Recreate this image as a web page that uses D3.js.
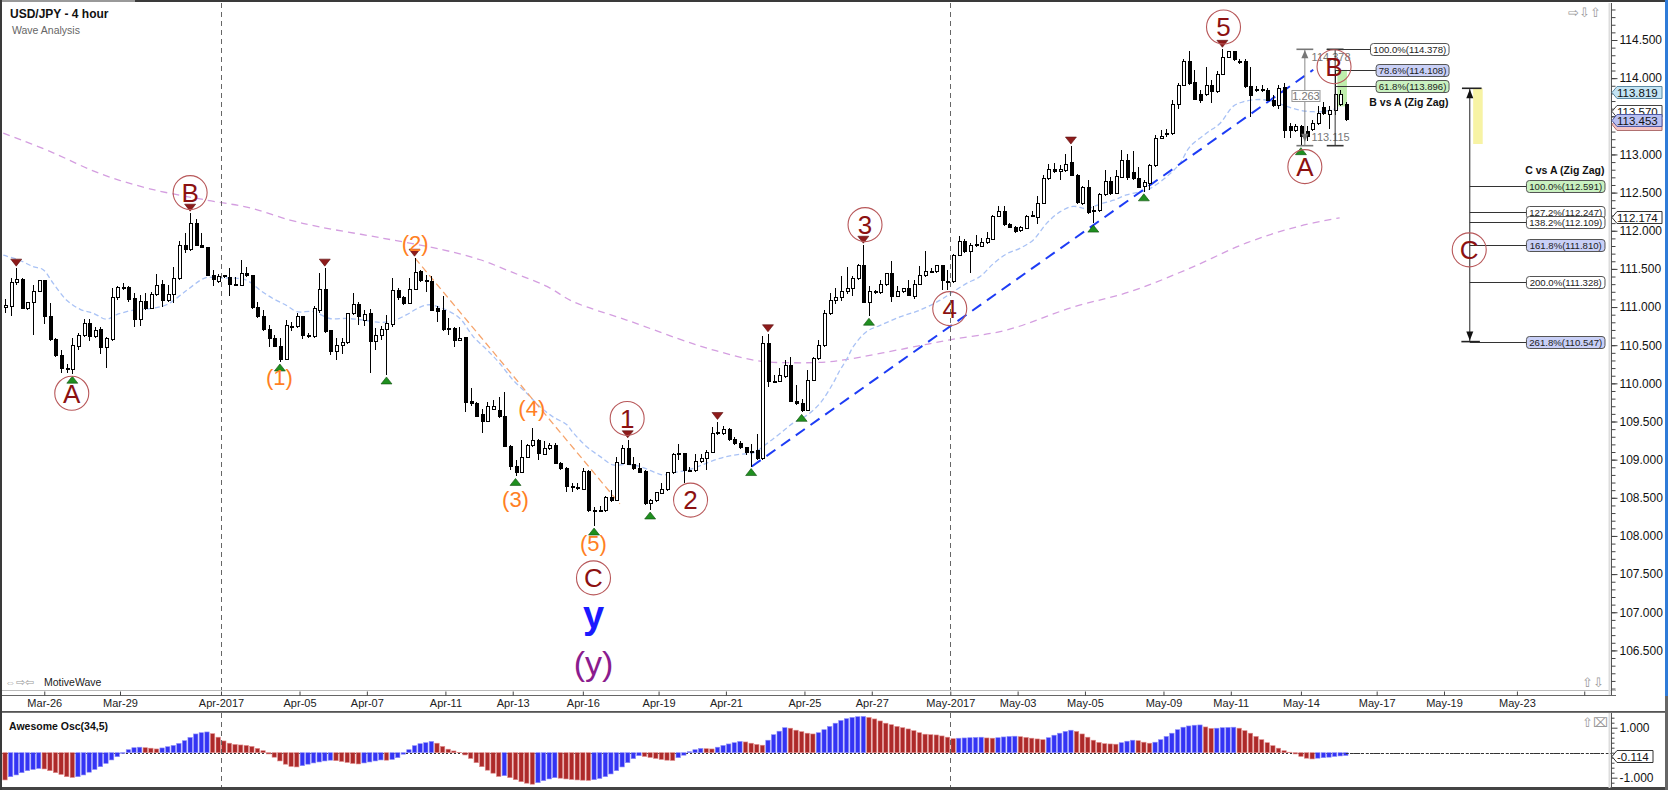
<!DOCTYPE html>
<html>
<head>
<meta charset="utf-8">
<script src="https://d3js.org/d3.v7.min.js"></script>
<style>
  body { margin: 0; background: #fff; }
  svg { display: block; }
</style>
</head>
<body>
<div id="chart"></div>
<script>
// USD/JPY 4 hour candles, [open, high, low, close], bar 0 = first visible bar
const ohlc = [
  [111.00,111.11,110.92,111.02],[111.01,111.38,110.88,111.32],[111.32,111.51,111.29,111.36],[111.36,111.38,110.97,110.98],
  [110.98,111.07,110.96,111.06],[111.06,111.29,110.63,111.21],[111.21,111.36,111.20,111.35],[111.35,111.36,110.78,110.88],
  [110.88,111.05,110.55,110.57],[110.57,110.59,110.35,110.37],[110.37,110.44,110.13,110.20],[110.20,110.26,110.14,110.18],
  [110.18,110.59,110.12,110.49],[110.48,110.66,110.44,110.63],[110.63,110.84,110.61,110.78],[110.78,110.84,110.55,110.61],
  [110.61,110.74,110.59,110.69],[110.70,110.74,110.39,110.47],[110.47,110.61,110.20,110.59],[110.58,111.25,110.56,111.13],
  [111.13,111.27,111.09,111.25],[111.24,111.31,111.22,111.25],[111.25,111.28,111.07,111.10],[111.11,111.18,110.74,110.84],
  [110.84,111.16,110.75,111.07],[111.07,111.18,110.96,110.98],[110.98,111.20,110.97,111.17],[111.16,111.43,111.14,111.28],
  [111.29,111.35,111.00,111.09],[111.08,111.29,111.06,111.17],[111.17,111.53,111.05,111.38],[111.38,111.86,111.35,111.81],
  [111.81,111.97,111.71,111.75],[111.75,112.23,111.74,112.10],[112.10,112.16,111.80,111.81],[111.81,111.97,111.77,111.78],
  [111.78,111.79,111.41,111.42],[111.42,111.49,111.27,111.36],[111.33,111.43,111.31,111.40],[111.40,111.42,111.38,111.41],
  [111.39,111.51,111.15,111.29],[111.28,111.40,111.27,111.29],[111.28,111.62,111.27,111.44],[111.44,111.53,111.39,111.42],
  [111.41,111.42,110.98,111.00],[111.00,111.07,110.86,110.88],[110.88,110.96,110.68,110.70],[110.70,110.76,110.48,110.59],
  [110.59,110.63,110.47,110.48],[110.48,110.59,110.28,110.31],[110.31,110.83,110.30,110.76],[110.75,110.81,110.68,110.74],
  [110.75,110.92,110.73,110.87],[110.87,110.88,110.58,110.63],[110.63,110.66,110.60,110.62],[110.62,111.01,110.60,110.98],
  [110.96,111.45,110.92,111.23],[111.23,111.51,110.66,110.68],[110.69,110.70,110.37,110.42],[110.42,110.59,110.31,110.50],
  [110.50,110.59,110.39,110.53],[110.53,110.92,110.52,110.91],[110.91,111.18,110.90,111.03],[111.03,111.06,110.77,110.88],
  [110.83,110.96,110.75,110.90],[110.91,110.98,110.14,110.55],[110.55,110.72,110.44,110.63],[110.63,110.75,110.57,110.71],
  [110.70,110.90,110.11,110.78],[110.77,111.38,110.74,111.22],[111.22,111.25,111.09,111.12],[111.12,111.14,111.03,111.05],
  [111.05,111.38,111.04,111.23],[111.23,111.64,111.22,111.45],[111.46,111.49,111.33,111.35],[111.35,111.42,111.20,111.34],
  [111.33,111.41,110.95,110.96],[110.98,111.01,110.81,110.94],[110.96,111.14,110.68,110.70],[110.72,110.85,110.63,110.70],
  [110.72,110.74,110.47,110.56],[110.56,110.74,110.55,110.59],[110.60,110.61,109.63,109.75],[109.76,109.94,109.70,109.73],
  [109.73,109.76,109.56,109.57],[109.59,109.67,109.35,109.50],[109.50,109.76,109.49,109.70],[109.66,109.78,109.65,109.70],
  [109.64,109.82,109.54,109.56],[109.56,109.89,109.16,109.17],[109.17,109.19,108.87,108.91],[108.91,108.99,108.78,108.83],
  [108.83,109.26,108.82,109.03],[109.03,109.21,109.02,109.19],[109.19,109.41,109.17,109.25],[109.25,109.27,108.99,109.08],
  [109.07,109.24,109.06,109.14],[109.14,109.22,109.13,109.19],[109.19,109.22,108.94,108.95],[108.95,108.97,108.87,108.89],
  [108.89,108.91,108.57,108.65],[108.65,108.70,108.57,108.64],[108.64,108.69,108.60,108.63],[108.61,108.89,108.60,108.84],
  [108.84,108.86,108.32,108.33],[108.33,108.38,108.13,108.32],[108.33,108.39,108.31,108.34],[108.33,108.52,108.31,108.51],
  [108.51,108.60,108.45,108.47],[108.47,109.04,108.46,108.96],[108.95,109.19,108.94,109.14],[109.15,109.26,108.93,108.94],
  [108.94,109.04,108.86,108.89],[108.89,108.95,108.82,108.83],[108.84,108.86,108.41,108.42],[108.42,108.48,108.34,108.47],
  [108.46,108.58,108.45,108.57],[108.56,108.70,108.55,108.61],[108.61,108.84,108.59,108.83],[108.83,109.09,108.81,109.07],
  [109.07,109.21,109.00,109.08],[109.08,109.09,108.70,108.86],[108.86,108.91,108.84,108.85],[108.86,109.08,108.84,108.98],
  [108.97,109.08,108.95,109.02],[109.02,109.13,108.86,109.10],[109.10,109.43,109.09,109.34],[109.34,109.50,109.32,109.35],
  [109.34,109.44,109.32,109.40],[109.40,109.42,109.24,109.26],[109.26,109.30,109.19,109.21],[109.21,109.24,109.14,109.16],
  [109.16,109.17,109.06,109.09],[109.10,109.21,108.91,109.11],[109.12,109.34,109.00,109.02],[109.02,110.62,109.00,110.52],
  [110.52,110.65,109.95,110.03],[110.03,110.11,110.00,110.02],[110.03,110.20,110.02,110.10],[110.09,110.31,110.07,110.24],
  [110.24,110.35,109.75,109.76],[109.76,109.98,109.72,109.73],[109.73,109.80,109.62,109.65],[109.65,110.18,109.64,110.04],
  [110.04,110.35,110.03,110.33],[110.33,110.57,110.31,110.50],[110.50,110.96,110.48,110.91],[110.91,111.18,110.90,111.09],
  [111.09,111.25,111.04,111.12],[111.12,111.41,111.08,111.20],[111.20,111.53,111.17,111.24],[111.24,111.41,111.14,111.38],
  [111.38,111.56,111.35,111.55],[111.55,111.81,111.05,111.06],[111.06,111.27,110.88,111.20],[111.20,111.23,111.17,111.21],
  [111.19,111.35,111.17,111.29],[111.29,111.45,111.28,111.44],[111.44,111.61,111.06,111.14],[111.14,111.27,111.13,111.21],
  [111.20,111.25,111.19,111.24],[111.24,111.35,111.14,111.15],[111.14,111.36,111.10,111.30],[111.30,111.54,111.29,111.41],
  [111.41,111.74,111.39,111.46],[111.46,111.51,111.45,111.47],[111.46,111.55,111.45,111.54],[111.54,111.55,111.22,111.35],
  [111.33,111.48,111.23,111.34],[111.33,111.70,111.32,111.68],[111.68,111.93,111.67,111.86],[111.86,111.89,111.71,111.73],
  [111.73,111.84,111.44,111.81],[111.81,111.94,111.79,111.82],[111.80,111.90,111.79,111.84],[111.84,111.99,111.83,111.90],
  [111.89,112.21,111.88,112.19],[112.19,112.32,112.18,112.25],[112.25,112.32,112.06,112.08],[112.08,112.10,112.03,112.04],
  [112.04,112.06,111.97,111.99],[112.00,112.06,111.99,112.04],[112.03,112.21,112.02,112.19],[112.19,112.26,112.18,112.20],
  [112.18,112.45,112.09,112.36],[112.36,112.73,112.35,112.69],[112.69,112.87,112.67,112.80],[112.80,112.89,112.76,112.77],
  [112.77,112.86,112.67,112.80],[112.79,113.01,112.77,112.87],[112.89,113.11,112.72,112.73],[112.73,112.75,112.35,112.37],
  [112.36,112.59,112.34,112.57],[112.57,112.67,112.22,112.24],[112.25,112.32,112.10,112.27],[112.26,112.49,112.25,112.47],
  [112.47,112.80,112.46,112.64],[112.64,112.71,112.47,112.49],[112.49,112.80,112.48,112.71],[112.70,113.06,112.69,112.92],
  [112.92,113.01,112.67,112.70],[112.76,113.04,112.66,112.69],[112.69,112.84,112.56,112.57],[112.58,112.67,112.51,112.63],
  [112.62,112.87,112.53,112.85],[112.85,113.26,112.84,113.21],[113.21,113.32,113.20,113.24],[113.26,113.34,113.23,113.28],
  [113.27,113.71,113.26,113.66],[113.66,113.93,113.60,113.91],[113.91,114.25,113.90,114.22],[114.22,114.35,113.91,113.93],
  [113.94,114.11,113.71,113.72],[113.78,113.85,113.67,113.71],[113.78,114.15,113.77,113.91],[113.91,113.98,113.68,113.82],
  [113.82,114.09,113.81,114.05],[114.05,114.378,114.04,114.27],[114.27,114.36,114.26,114.35],[114.35,114.36,114.22,114.24],
  [114.22,114.25,114.19,114.21],[114.22,114.25,113.87,113.89],[113.89,114.15,113.49,113.77],[113.85,113.90,113.82,113.84],
  [113.84,113.91,113.82,113.85],[113.84,113.87,113.70,113.71],[113.71,113.78,113.62,113.64],[113.64,113.91,113.60,113.87],
  [113.88,113.93,113.22,113.32],[113.37,113.41,113.22,113.31],[113.32,113.40,113.30,113.37],[113.36,113.39,113.115,113.23],
  [113.30,113.37,113.17,113.23],[113.33,113.45,113.31,113.41],[113.41,113.63,113.39,113.54],[113.62,113.69,113.52,113.54],
  [113.52,113.63,113.33,113.57],[113.58,114.11,113.52,113.79],[113.66,113.84,113.63,113.79],[113.66,113.69,113.44,113.453]
];

// Awesome Oscillator (34,5), one value per bar
const aoValues = [
  -1.09,-0.96,-0.89,-0.80,-0.72,-0.67,-0.63,-0.65,-0.72,-0.80,
  -0.87,-0.96,-0.99,-0.96,-0.89,-0.78,-0.67,-0.56,-0.43,-0.29,
  -0.16,-0.03,0.12,0.20,0.22,0.20,0.18,0.15,0.19,0.24,
  0.29,0.37,0.48,0.61,0.75,0.80,0.83,0.76,0.62,0.47,
  0.38,0.33,0.31,0.29,0.25,0.17,0.08,-0.05,-0.18,-0.33,
  -0.46,-0.55,-0.57,-0.52,-0.46,-0.41,-0.37,-0.33,-0.30,-0.32,
  -0.35,-0.39,-0.43,-0.45,-0.41,-0.37,-0.33,-0.29,-0.30,-0.27,
  -0.20,-0.06,0.12,0.28,0.36,0.40,0.45,0.38,0.25,0.14,
  0.07,0.01,-0.09,-0.23,-0.40,-0.56,-0.70,-0.82,-0.95,-0.92,
  -1.00,-1.08,-1.16,-1.22,-1.26,-1.20,-1.12,-1.05,-1.00,-1.02,
  -1.05,-1.07,-1.09,-1.10,-1.11,-1.08,-1.03,-0.96,-0.85,-0.72,
  -0.57,-0.40,-0.24,-0.12,-0.15,-0.19,-0.23,-0.27,-0.30,-0.31,
  -0.20,-0.10,0.04,0.12,0.17,0.16,0.15,0.22,0.29,0.35,
  0.40,0.45,0.43,0.38,0.33,0.30,0.50,0.72,0.86,1.00,
  0.98,0.90,0.84,0.78,0.75,0.80,0.92,1.05,1.18,1.29,
  1.36,1.41,1.44,1.45,1.41,1.35,1.27,1.18,1.12,1.05,
  1.00,0.95,0.88,0.80,0.74,0.72,0.71,0.67,0.62,0.56,
  0.58,0.59,0.60,0.61,0.62,0.59,0.58,0.60,0.63,0.65,
  0.66,0.64,0.61,0.58,0.55,0.52,0.60,0.70,0.78,0.85,
  0.90,0.85,0.75,0.62,0.50,0.41,0.36,0.35,0.34,0.40,
  0.46,0.50,0.48,0.42,0.38,0.42,0.52,0.65,0.78,0.92,
  1.02,1.07,1.10,1.11,1.03,0.97,0.98,1.00,1.01,1.02,
  0.98,0.88,0.78,0.65,0.52,0.40,0.28,0.18,0.08,0.02,
  -0.05,-0.15,-0.22,-0.25,-0.22,-0.20,-0.18,-0.15,-0.13,-0.114
];

// date axis
const dateTickLabels = ['Mar-26','Mar-29','Apr-2017','Apr-05','Apr-07','Apr-11','Apr-13','Apr-16','Apr-19','Apr-21','Apr-25',
  'Apr-27','May-2017','May-03','May-05','May-09','May-11','May-14','May-17','May-19','May-23',''];
const dateTickBars = [7, 20.5, 38.5, 52.5, 64.5, 78.5, 90.5, 103, 116.5, 128.5, 142.5,
  154.5, 168.5, 180.5, 192.5, 206.5, 218.5, 231, 244.5, 256.5, 269.5, 281.5];

// moving averages, [bar, price]
const fastMA = [
  [-0.3,111.68],[2.7,111.61],[5.0,111.53],[6.8,111.49],[8.6,111.31],[11.0,111.09],[13.4,110.97],[15.7,110.92],
  [18.1,110.84],[19.9,110.90],[22.9,110.96],[25.8,110.98],[28.8,111.03],[32.4,111.22],[34.8,111.35],[36.0,111.39],
  [38.3,111.38],[40.7,111.38],[43.1,111.35],[45.5,111.22],[47.8,111.11],[50.2,111.02],[52.0,110.94],[55.0,110.94],
  [57.9,110.85],[60.9,110.85],[63.9,110.83],[66.8,110.80],[69.2,110.82],[71.6,110.90],[74.0,111.00],[75.8,111.03],
  [78.7,110.96],[81.1,110.85],[83.5,110.61],[85.9,110.44],[88.2,110.26],[90.6,110.04],[93.0,109.87],[95.4,109.69],
  [97.7,109.56],[100.1,109.46],[101.2,109.36],[103.7,109.17],[106.1,109.04],[108.4,108.93],[110.8,108.94],[113.2,108.91],
  [115.6,108.84],[117.3,108.80],[119.1,108.83],[121.5,108.86],[123.9,108.92],[126.3,108.99],[128.6,109.04],[131.0,109.07],
  [133.4,109.09],[135.8,109.21],[138.1,109.34],[140.5,109.48],[142.9,109.58],[145.3,109.74],[147.6,110.00],[148.8,110.17],
  [150.0,110.31],[151.2,110.48],[153.6,110.68],[156.0,110.76],[159.5,110.87],[163.1,110.96],[166.7,111.09],[169.0,111.20],
  [171.4,111.31],[173.8,111.40],[176.2,111.57],[178.6,111.70],[180.9,111.77],[183.3,111.88],[185.7,112.10],[188.1,112.25],
  [190.4,112.32],[192.8,112.29],[195.2,112.35],[197.6,112.40],[199.9,112.47],[203.5,112.53],[204.7,112.58],[207.1,112.71],
  [209.4,112.88],[211.2,113.10],[214.2,113.28],[216.6,113.41],[218.9,113.63],[220.7,113.69],[223.7,113.72],[226.1,113.69],
  [228.5,113.63],[230.8,113.58],[233.2,113.56],[235.6,113.57],[238.0,113.62]
];
const slowMA = [
  [-0.3,113.28],[8.0,113.04],[16.9,112.75],[25.8,112.55],[36.0,112.40],[43.7,112.30],[50.8,112.14],[56.1,112.05],
  [66.8,111.91],[78.1,111.75],[84.7,111.62],[90.6,111.45],[96.6,111.27],[101.3,111.07],[110.8,110.83],[122.6,110.52],
  [128.6,110.39],[134.6,110.29],[140.5,110.27],[146.5,110.28],[150.6,110.32],[160.7,110.46],[168.4,110.57],[178.6,110.70],
  [190.4,111.00],[200.5,111.20],[210.6,111.49],[221.3,111.84],[230.2,112.05],[237.9,112.17]
];

// trend lines, [bar, price]
const orangeTrend = [[73.1, 111.64], [109.6, 108.42]];
const blueTrend = [[133.1, 108.91], [233.2, 114.11]];

// wave labels, [bar, price, text]
const waveCircles = [
  [11.9,109.87,'A'],[33.0,112.50,'B'],[104.9,107.45,'C'],
  [110.9,109.54,'1'],[122.2,108.47,'2'],[153.3,112.08,'3'],[168.4,110.98,'4'],[217.2,114.67,'5'],
  [231.7,112.84,'A'],[236.9,114.15,'B'],[261.0,111.75,'C']
];
const orangeWaves = [[48.9,110.07,'(1)'],[73.1,111.83,'(2)'],[91.0,108.47,'(3)'],[93.9,109.66,'(4)'],[104.9,107.90,'(5)']];
const degreeY = [104.9, 106.79, 'y'];
const degreeYParen = [104.9, 106.18, '(y)'];

// zig zag pivots (bar numbers)
const pivotHighs = [2, 33, 57, 73, 111, 127, 136, 153, 190, 217];
const pivotLows = [12, 49, 68, 91, 105, 115, 133, 142, 154, 194, 203, 231];

// fibonacci tools
const waveAPrices = [114.378, 113.115];
const bvsaLevels = ['100.0', '78.6', '61.8'];
const bvsaPrices = [114.378, 114.108, 113.896];
const cvsaLevels = ['100.0', '127.2', '138.2', '161.8', '200.0', '261.8'];
const cvsaPrices = [112.591, 112.247, 112.109, 111.810, 111.328, 110.547];
const cvsaStart = 113.867;
const bZonePrices = [114.108, 113.63];
const cZonePrices = [113.867, 113.137];

// right axis value markers (the first one sits hidden under the others)
const markerPrices = [113.40, 113.570, 113.453, 113.819, 112.174];
const aoLast = -0.114;

// ---------------------------------------------------------------
const W = 1668, H = 790;
const axisX = 1611;
const mainTop = 3, mainBottom = 691;
const oscTop = 713, oscBottom = 788;

const x = d3.scaleLinear().domain([0, 286.27]).range([5, axisX]);
const y = d3.scaleLinear().domain([106.5, 114.5]).range([650.4, 40]);
const yOsc = d3.scaleLinear().domain([-1, 1]).range([777.7, 727.7]);
const font = '"Liberation Sans", Arial, Helvetica, sans-serif';

const svg = d3.select('#chart').append('svg')
  .attr('width', W).attr('height', H)
  .style('font-family', font);

svg.append('rect').attr('width', W).attr('height', H).attr('fill', '#fff');

const defs = svg.append('defs');
defs.append('clipPath').attr('id', 'clipMain').append('rect')
  .attr('x', 2).attr('y', mainTop).attr('width', axisX - 2).attr('height', mainBottom - mainTop);
defs.append('clipPath').attr('id', 'clipOsc').append('rect')
  .attr('x', 2).attr('y', oscTop).attr('width', axisX - 2).attr('height', oscBottom - oscTop);

const main = svg.append('g').attr('clip-path', 'url(#clipMain)');
const osc = svg.append('g').attr('clip-path', 'url(#clipOsc)');

// month separators
const monthBars = dateTickBars.filter((d, i) => dateTickLabels[i].indexOf('2017') >= 0);
monthBars.forEach(b => {
  const xx = Math.round(x(b)) + 0.5;
  [[mainTop, mainBottom], [oscTop, oscBottom]].forEach(r => {
    svg.append('line').attr('x1', xx).attr('x2', xx).attr('y1', r[0]).attr('y2', r[1])
      .attr('stroke', '#666').attr('stroke-width', 1).attr('stroke-dasharray', '5,4');
  });
});

// moving averages
const maLine = d3.line().x(d => x(d[0])).y(d => y(d[1])).curve(d3.curveCatmullRom);
main.append('path').attr('d', maLine(slowMA)).attr('fill', 'none')
  .attr('stroke', '#d49ee0').attr('stroke-width', 1.3).attr('stroke-dasharray', '7,5');
main.append('path').attr('d', maLine(fastMA)).attr('fill', 'none')
  .attr('stroke', '#a9c2f5').attr('stroke-width', 1.3).attr('stroke-dasharray', '5,3');

// trend lines
const straight = d3.line().x(d => x(d[0])).y(d => y(d[1]));
main.append('path').attr('d', straight(orangeTrend)).attr('fill', 'none')
  .attr('stroke', '#f6a46c').attr('stroke-width', 1.3).attr('stroke-dasharray', '7,4');
main.append('path').attr('d', straight(blueTrend)).attr('fill', 'none')
  .attr('stroke', '#1d3cf5').attr('stroke-width', 2).attr('stroke-dasharray', '11,7');

// zones behind candles
main.append('rect').attr('x', x(237.5)).attr('width', x(239.2) - x(237.5))
  .attr('y', y(bZonePrices[0])).attr('height', y(bZonePrices[1]) - y(bZonePrices[0]))
  .attr('fill', '#a9e890').attr('opacity', 0.75);

// candles
const cg = main.append('g').attr('shape-rendering', 'crispEdges');
ohlc.forEach((d, i) => {
  const cx = Math.round(x(i));
  const [o, h, l, c] = d;
  cg.append('line').attr('x1', cx + 0.5).attr('x2', cx + 0.5)
    .attr('y1', y(h)).attr('y2', y(l)).attr('stroke', '#000').attr('stroke-width', 1);
  const top = y(Math.max(o, c)), bot = y(Math.min(o, c));
  cg.append('rect').attr('x', cx - 1).attr('width', 3)
    .attr('y', top).attr('height', Math.max(1, bot - top))
    .attr('fill', c >= o ? '#fff' : '#000').attr('stroke', '#000').attr('stroke-width', 1);
});

// pivot markers
pivotHighs.forEach(b => {
  const cx = x(b), yy = y(ohlc[b][1]) - 2;
  main.append('path').attr('d', `M${cx - 5.5},${yy - 7}L${cx + 5.5},${yy - 7}L${cx},${yy}Z`)
    .attr('fill', '#8e1b1b').attr('stroke', '#5a0f0f').attr('stroke-width', 0.6);
});
pivotLows.forEach(b => {
  const cx = x(b), yy = y(ohlc[b][2]) + 2;
  main.append('path').attr('d', `M${cx - 5.5},${yy + 7}L${cx + 5.5},${yy + 7}L${cx},${yy}Z`)
    .attr('fill', '#1f8f1f').attr('stroke', '#0d4d0d').attr('stroke-width', 0.6);
});

// measurement of wave A
const measureBar = 231.7;
const mx = x(measureBar);
const ya = y(waveAPrices[0]), yb = y(waveAPrices[1]);
main.append('line').attr('x1', mx).attr('x2', mx).attr('y1', ya).attr('y2', yb).attr('stroke', '#888');
[ya, yb].forEach(yy => main.append('line').attr('x1', x(230.2)).attr('x2', x(233.2))
  .attr('y1', yy).attr('y2', yy).attr('stroke', '#777').attr('stroke-width', 1.6));
main.append('path').attr('d', `M${mx - 3.5},${ya + 9}L${mx + 3.5},${ya + 9}L${mx},${ya + 1}Z`).attr('fill', '#777');
main.append('path').attr('d', `M${mx - 3.5},${yb - 12}L${mx + 3.5},${yb - 12}L${mx},${yb - 4}Z`).attr('fill', '#777');
main.append('text').attr('x', x(232.9)).attr('y', ya + 12).attr('font-size', 11).attr('fill', '#777')
  .text(waveAPrices[0].toFixed(3));
main.append('text').attr('x', x(232.9)).attr('y', yb - 5).attr('font-size', 11).attr('fill', '#777')
  .text(waveAPrices[1].toFixed(3));
const ym = y((waveAPrices[0] + waveAPrices[1]) / 2) - 1.5;
main.append('rect').attr('x', x(229.4)).attr('y', ym - 5.5).attr('width', x(234.4) - x(229.4)).attr('height', 11)
  .attr('fill', '#fff').attr('stroke', '#999');
main.append('text').attr('x', (x(229.4) + x(234.4)) / 2).attr('y', ym + 4).attr('text-anchor', 'middle')
  .attr('font-size', 11).attr('fill', '#777').text((waveAPrices[0] - waveAPrices[1]).toFixed(3));

// fib label box
const fibFill = { '100.0': '#ffffff', '78.6': '#c9d0f7', '61.8': '#c9f1c0' };
const fibFillC = { '100.0': '#c9f1c0', '127.2': '#ffffff', '138.2': '#ffffff', '161.8': '#c9d0f7', '200.0': '#ffffff', '261.8': '#c9d0f7' };
function fibBox(x0, x1, price, pct, fill) {
  const yy = Math.round(y(price)) + 0.5;
  main.append('rect').attr('x', x0).attr('y', yy - 6).attr('width', x1 - x0).attr('height', 12)
    .attr('rx', 3).attr('fill', fill).attr('stroke', '#555').attr('stroke-width', 1);
  main.append('text').attr('x', (x0 + x1) / 2).attr('y', yy + 3.5).attr('text-anchor', 'middle')
    .attr('font-size', 9.6).attr('fill', '#222').text(`${pct}%(${price.toFixed(3)})`);
}

// B vs A
const bx = x(237.1);
main.append('line').attr('x1', bx).attr('x2', bx).attr('y1', y(waveAPrices[0])).attr('y2', y(waveAPrices[1])).attr('stroke', '#333');
[waveAPrices[0], waveAPrices[1]].forEach(p => main.append('line').attr('x1', x(235.6)).attr('x2', x(238.6))
  .attr('y1', y(p)).attr('y2', y(p)).attr('stroke', '#333').attr('stroke-width', 1.6));
bvsaLevels.forEach((pct, i) => {
  const x0 = i === 0 ? x(243.4) : x(244.4);
  const yy = Math.round(y(bvsaPrices[i])) + 0.5;
  main.append('line').attr('x1', i === 0 ? x(235.6) : bx).attr('x2', x0).attr('y1', yy).attr('y2', yy).attr('stroke', '#333');
  fibBox(x0, x(257.4), bvsaPrices[i], pct, fibFill[pct]);
});
main.append('text').attr('x', x(257.3)).attr('y', y(bvsaPrices[2]) + 20).attr('text-anchor', 'end')
  .attr('font-size', 10.5).attr('font-weight', 'bold').attr('fill', '#111').text('B vs A (Zig Zag)');

// C vs A
const cxv = x(261.1);
main.append('rect').attr('x', x(261.7)).attr('width', x(263.4) - x(261.7))
  .attr('y', y(cZonePrices[0])).attr('height', y(cZonePrices[1]) - y(cZonePrices[0])).attr('fill', '#f7f3a4');
main.append('line').attr('x1', cxv).attr('x2', cxv).attr('y1', y(cvsaStart)).attr('y2', y(cvsaPrices[5])).attr('stroke', '#222');
main.append('line').attr('x1', x(259.7)).attr('x2', x(263.2)).attr('y1', y(cvsaStart)).attr('y2', y(cvsaStart)).attr('stroke', '#222').attr('stroke-width', 1.6);
main.append('line').attr('x1', x(259.6)).attr('x2', x(262.9)).attr('y1', y(cvsaPrices[5])).attr('y2', y(cvsaPrices[5])).attr('stroke', '#222').attr('stroke-width', 1.6);
const yTop = y(cvsaStart), yBot = y(cvsaPrices[5]);
main.append('path').attr('d', `M${cxv - 3.5},${yTop + 10}L${cxv + 3.5},${yTop + 10}L${cxv},${yTop + 1}Z`).attr('fill', '#111');
main.append('path').attr('d', `M${cxv - 3.5},${yBot - 10}L${cxv + 3.5},${yBot - 10}L${cxv},${yBot - 1}Z`).attr('fill', '#111');
cvsaLevels.forEach((pct, i) => {
  const yy = Math.round(y(cvsaPrices[i])) + 0.5;
  main.append('line').attr('x1', cxv).attr('x2', x(271.2)).attr('y1', yy).attr('y2', yy).attr('stroke', '#333');
  fibBox(x(271.2), x(285.2), cvsaPrices[i], pct, fibFillC[pct]);
});
main.append('text').attr('x', x(285.1)).attr('y', y(cvsaPrices[0]) - 12).attr('text-anchor', 'end')
  .attr('font-size', 10.5).attr('font-weight', 'bold').attr('fill', '#111').text('C vs A (Zig Zag)');

// wave labels
waveCircles.forEach(d => {
  const cx = x(d[0]), cy = y(d[1]);
  main.append('circle').attr('cx', cx).attr('cy', cy).attr('r', 17)
    .attr('fill', 'none').attr('stroke', '#b8585a').attr('stroke-width', 1.1);
  main.append('text').attr('x', cx).attr('y', cy).attr('dy', '0.36em').attr('text-anchor', 'middle')
    .attr('font-size', 26).attr('fill', '#8c1111').text(d[2]);
});
orangeWaves.forEach(d => {
  main.append('text').attr('x', x(d[0])).attr('y', y(d[1])).attr('dy', '0.32em').attr('text-anchor', 'middle')
    .attr('font-size', 22).attr('fill', '#ff7f24').text(d[2]);
});
main.append('text').attr('x', x(degreeY[0])).attr('y', y(degreeY[1])).attr('text-anchor', 'middle')
  .attr('font-size', 38).attr('font-weight', 'bold').attr('fill', '#1a1aff').text(degreeY[2]);
main.append('text').attr('x', x(degreeYParen[0])).attr('y', y(degreeYParen[1])).attr('text-anchor', 'middle')
  .attr('font-size', 34).attr('fill', '#8b1c8e').text(degreeYParen[2]);

// titles
svg.append('text').attr('x', 10).attr('y', 18).attr('font-size', 12).attr('font-weight', 'bold')
  .attr('fill', '#111').text('USD/JPY - 4 hour');
svg.append('text').attr('x', 12).attr('y', 34).attr('font-size', 10.5).attr('fill', '#666').text('Wave Analysis');
svg.append('text').attr('x', 5).attr('y', 686).attr('font-size', 11).attr('fill', '#999').text('⇔⇨⇦');
svg.append('text').attr('x', 44).attr('y', 686).attr('font-size', 10.5).attr('fill', '#222').text('MotiveWave');
svg.append('text').attr('x', 1568).attr('y', 17).attr('font-size', 13).attr('fill', '#999').text('⇨⇩⇧');
svg.append('text').attr('x', 1582).attr('y', 687).attr('font-size', 13).attr('fill', '#999').text('⇧⇩');
svg.append('text').attr('x', 1582).attr('y', 727).attr('font-size', 13).attr('fill', '#999').text('⇧⌧');

// awesome oscillator
osc.append('line').attr('x1', 2).attr('x2', axisX).attr('y1', Math.round(yOsc(0)) + 0.5).attr('y2', Math.round(yOsc(0)) + 0.5)
  .attr('stroke', '#333').attr('stroke-dasharray', '2,2');
osc.selectAll('rect.ao').data(aoValues).join('rect').attr('class', 'ao')
  .attr('x', (d, i) => x(i) - 2.2).attr('width', 4.4)
  .attr('y', d => Math.min(yOsc(0), yOsc(d))).attr('height', d => Math.abs(yOsc(d) - yOsc(0)))
  .attr('fill', (d, i) => (i > 0 && d > aoValues[i - 1]) ? '#3434f4' : '#ad2a2a')
  .attr('stroke', (d, i) => (i > 0 && d > aoValues[i - 1]) ? '#8f8ff8' : '#e08a8a').attr('stroke-width', 0.6);
svg.append('text').attr('x', 9).attr('y', 730).attr('font-size', 10.5).attr('font-weight', 'bold')
  .attr('fill', '#111').text('Awesome Osc(34,5)');

// frame lines
svg.append('line').attr('x1', 0).attr('x2', 1616).attr('y1', 690.5).attr('y2', 690.5).attr('stroke', '#bbb');
svg.append('line').attr('x1', 0).attr('x2', 1616).attr('y1', 695.5).attr('y2', 695.5).attr('stroke', '#666');
svg.append('rect').attr('x', 0).attr('y', 711).attr('width', W).attr('height', 1.8).attr('fill', '#555');
svg.append('rect').attr('x', 0).attr('y', 0).attr('width', W).attr('height', 2).attr('fill', '#3a3a3a');
svg.append('rect').attr('x', 0).attr('y', 0).attr('width', 135).attr('height', 2).attr('fill', '#999');
svg.append('rect').attr('x', 0).attr('y', 787).attr('width', W).attr('height', 3).attr('fill', '#444');
svg.append('rect').attr('x', 0).attr('y', 0).attr('width', 2).attr('height', H).attr('fill', '#3a3a3a');
svg.append('rect').attr('x', 1665).attr('y', 0).attr('width', 3).attr('height', 696).attr('fill', '#2f7bd8');
svg.append('rect').attr('x', 1665).attr('y', 696).attr('width', 3).attr('height', 94).attr('fill', '#666');
svg.append('line').attr('x1', 1609.5).attr('x2', 1609.5).attr('y1', mainTop).attr('y2', 695).attr('stroke', '#ddd').attr('stroke-width', 2);
svg.append('line').attr('x1', axisX + 0.5).attr('x2', axisX + 0.5).attr('y1', mainTop).attr('y2', 695).attr('stroke', '#555');
svg.append('line').attr('x1', 1609.5).attr('x2', 1609.5).attr('y1', oscTop).attr('y2', oscBottom).attr('stroke', '#ddd').attr('stroke-width', 2);
svg.append('line').attr('x1', axisX + 0.5).attr('x2', axisX + 0.5).attr('y1', oscTop).attr('y2', oscBottom).attr('stroke', '#555');

// price axis
const styleAxis = g => {
  g.select('.domain').remove();
  g.selectAll('line').attr('stroke', '#444');
  g.selectAll('text').attr('font-family', font).attr('fill', '#111');
};
const minorTicks = d3.range(1060, 1150, 1).map(v => v / 10).filter(v => y(v) > mainTop + 2 && y(v) < mainBottom - 1);
const majorTicks = d3.range(1065, 1146, 5).map(v => v / 10);
svg.append('g').attr('transform', `translate(${axisX + 0.5},0)`)
  .call(d3.axisRight(y).tickValues(minorTicks).tickSize(4).tickFormat(''))
  .call(styleAxis);
svg.append('g').attr('transform', `translate(${axisX + 0.5},0)`)
  .call(d3.axisRight(y).tickValues(majorTicks).tickSize(6).tickPadding(2).tickFormat(d => d.toFixed(3)))
  .call(styleAxis)
  .call(g => g.selectAll('text').attr('font-size', 12));

// oscillator axis
svg.append('g').attr('transform', `translate(${axisX + 0.5},0)`)
  .call(d3.axisRight(yOsc).tickValues(d3.range(-14, 15, 2).map(v => v / 10).filter(v => Math.abs(v) !== 1)).tickSize(3).tickFormat(''))
  .call(styleAxis);
svg.append('g').attr('transform', `translate(${axisX + 0.5},0)`)
  .call(d3.axisRight(yOsc).tickValues([-1, 1]).tickSize(6).tickPadding(2).tickFormat(d => d.toFixed(3)))
  .call(styleAxis)
  .call(g => g.selectAll('text').attr('font-size', 12));

// date axis
svg.append('g').attr('transform', 'translate(0,695.5)')
  .call(d3.axisTop(x).tickValues(dateTickBars).tickSize(4).tickFormat(''))
  .call(styleAxis);
svg.append('g').attr('transform', 'translate(0,699)')
  .call(d3.axisBottom(x).tickValues(dateTickBars).tickSize(0).tickPadding(0).tickFormat((d, i) => dateTickLabels[i]))
  .call(styleAxis)
  .call(g => g.selectAll('text').attr('font-size', 11).attr('fill', '#222'));

// value markers on the axis
const markerStyle = [
  { fill: '#f4c4c4', stroke: '#b07070' },
  { fill: '#ffffff', stroke: '#444' },
  { fill: '#b9c0f2', stroke: '#4f5aa5' },
  { fill: '#c3e4f4', stroke: '#5d8aa3' },
  { fill: '#ffffff', stroke: '#333' }
];
function axisMarker(yy, label, fill, stroke, right) {
  yy = Math.round(yy) + 0.5;
  svg.append('path')
    .attr('d', `M${axisX + 1},${yy}L${axisX + 6},${yy - 6}L${right},${yy - 6}L${right},${yy + 6}L${axisX + 6},${yy + 6}Z`)
    .attr('fill', fill).attr('stroke', stroke).attr('stroke-width', 1);
  if (label) {
    svg.append('text').attr('x', axisX + 6).attr('y', yy + 4.2).attr('font-size', 11.5).attr('fill', '#111').text(label);
  }
}
// the pink marker is fully covered in the reference, so it carries no text
markerPrices.forEach((p, i) => axisMarker(y(p), i === 0 ? '' : p.toFixed(3), markerStyle[i].fill, markerStyle[i].stroke, 1662));
axisMarker(yOsc(aoLast), aoLast.toFixed(3), '#fff', '#333', 1653);
osc.append('line').attr('x1', x(ohlc.length - 1)).attr('x2', axisX).attr('y1', Math.round(yOsc(0)) + 0.5).attr('y2', Math.round(yOsc(0)) + 0.5)
  .attr('stroke', '#333').attr('stroke-dasharray', '3,2');
</script>
</body>
</html>
